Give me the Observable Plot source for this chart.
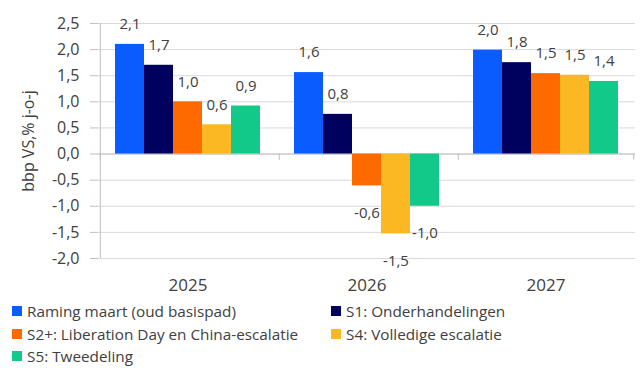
<!DOCTYPE html>
<html>
<head>
<meta charset="utf-8">
<script src="https://cdn.jsdelivr.net/npm/d3@7"></script>
<script src="https://cdn.jsdelivr.net/npm/@observablehq/plot@0.6"></script>
<style>
  html, body { margin: 0; padding: 0; background: #fff; }
  body { width: 640px; height: 368px; overflow: hidden; font-family: "Open Sans", "Noto Sans", sans-serif; }
  #legend { display: grid; grid-template-columns: 319px 300px; row-gap: 0px; padding-left: 12px; margin-top: 2px; }
  .item { display: flex; align-items: center; height: 22.5px; font-size: 15.3px; color: #404040; white-space: nowrap; }
  .sw { width: 10px; height: 10px; margin-right: 5px; flex: none; }
</style>
</head>
<body>
<div id="chart"></div>
<div id="legend"></div>
<script>
const years = ["2025", "2026", "2027"];
const series = [
  "Raming maart (oud basispad)",
  "S1: Onderhandelingen",
  "S2+: Liberation Day en China-escalatie",
  "S4: Volledige escalatie",
  "S5: Tweedeling"
];
const colors = ["#0a5cff", "#00005e", "#ff6a00", "#fcb822", "#12c98a"];
const values2025 = [2.1, 1.7, 1.0, 0.56, 0.92];
const values2026 = [1.56, 0.76, -0.61, -1.53, -1.0];
const values2027 = [1.99, 1.75, 1.54, 1.51, 1.39];
const labels2025 = ["2,1", "1,7", "1,0", "0,6", "0,9"];
const labels2026 = ["1,6", "0,8", "-0,6", "-1,5", "-1,0"];
const labels2027 = ["2,0", "1,8", "1,5", "1,5", "1,4"];
const yTicks = [-2, -1.5, -1, -0.5, 0, 0.5, 1, 1.5, 2, 2.5];
const yLabel = "bbp VS,% j-o-j";

const valueRows = [values2025, values2026, values2027];
const labelRows = [labels2025, labels2026, labels2027];
const data = [];
years.forEach((yr, i) => series.forEach((s, j) => data.push({year: yr, series: s, value: valueRows[i][j], label: labelRows[i][j]})));

const width = 640, height = 298;
const marginLeft = 97, marginRight = 5;
const facetW = (width - marginLeft - marginRight) / years.length;
const padOuter = 0.49;
const step = facetW / (series.length + 2 * padOuter);
const edgeDx = step * (padOuter + 0.5);

const leftEdges = years.map(y => ({year: y, series: series[0]}));
const rightEdge = [{year: years[years.length - 1], series: series[series.length - 1]}];
const axisLine = [{year: years[0], series: series[0]}];

const textColor = "#404040";
const font = "'Open Sans', 'Noto Sans', sans-serif";

const chart = Plot.plot({
  width, height,
  marginTop: 23, marginBottom: 40, marginLeft, marginRight,
  style: {fontFamily: font, fontSize: "15px", color: textColor, background: "#fff"},
  fx: {domain: years, padding: 0, label: null, axis: null},
  x: {domain: series, paddingInner: 0, paddingOuter: padOuter, axis: null},
  y: {domain: [-2, 2.5], ticks: yTicks},
  color: {domain: series, range: colors},
  marks: [
    Plot.gridY(yTicks, {stroke: "#d9d9d9", strokeOpacity: 1}),
    Plot.ruleY([0], {stroke: "#bfbfbf"}),
    Plot.ruleX(axisLine, {fx: "year", x: "series", y1: -2, y2: 2.5, dx: -edgeDx, stroke: "#bfbfbf"}),
    Plot.ruleX(leftEdges, {fx: "year", x: "series", y1: 0, y2: -0.12, dx: -edgeDx, stroke: "#bfbfbf"}),
    Plot.ruleX(rightEdge, {fx: "year", x: "series", y1: 0, y2: -0.12, dx: edgeDx, stroke: "#bfbfbf"}),
    Plot.barY(data, {fx: "year", x: "series", y: "value", fill: "series"}),
    Plot.text(data.filter(d => d.value >= 0), {fx: "year", x: "series", y: "value", text: "label", dy: -20, fill: textColor, fontSize: 15}),
    Plot.text(data.filter(d => d.value < 0), {fx: "year", x: "series", y: "value", text: "label", dy: 27, fill: textColor, fontSize: 15}),
    Plot.axisY(yTicks, {
      tickSize: 8, tickPadding: 11, stroke: "#bfbfbf",
      tickFormat: d => d3.format(".1f")(d).replace(".", ",").replace("−", "-"),
      fill: textColor, fontSize: 16,
      label: yLabel, labelAnchor: "center", labelOffset: 76, labelArrow: "none"
    }),
    Plot.axisFx({anchor: "bottom", tickSize: 0, tickPadding: 20, fill: textColor, fontSize: 17, label: null})
  ]
});
document.getElementById("chart").appendChild(chart);

const legend = document.getElementById("legend");
series.forEach((s, i) => {
  const item = document.createElement("div");
  item.className = "item";
  const sw = document.createElement("span");
  sw.className = "sw";
  sw.style.background = colors[i];
  const t = document.createElement("span");
  t.textContent = s;
  item.appendChild(sw);
  item.appendChild(t);
  legend.appendChild(item);
});
</script>
</body>
</html>
